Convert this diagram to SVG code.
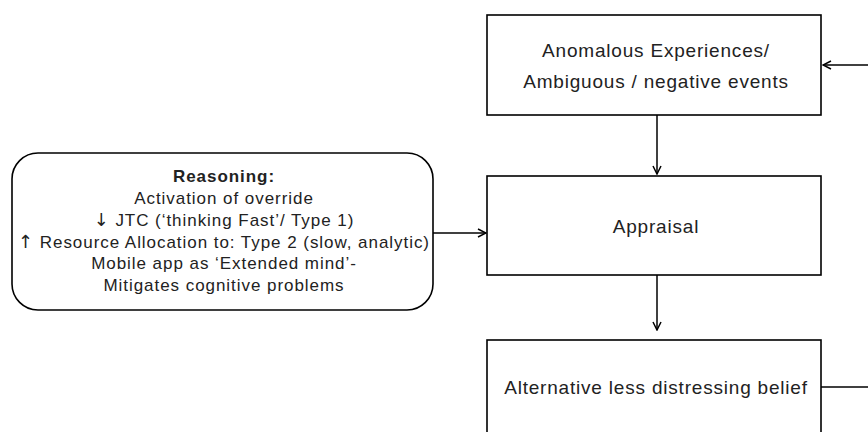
<svg xmlns="http://www.w3.org/2000/svg" width="868" height="432" viewBox="0 0 868 432">
<defs>
<marker id="ah" markerWidth="10" markerHeight="10" refX="9" refY="5" orient="auto" markerUnits="userSpaceOnUse">
<path d="M1,1 L9,5 L1,9" fill="none" stroke="#000" stroke-width="1.5"/>
</marker>
<style>
.box{fill:#fff;stroke:#000;stroke-width:1.6}
.t{font-family:"Liberation Sans",Arial,sans-serif;font-size:19px;letter-spacing:0.8px;fill:#222;text-anchor:middle}
.tl{font-family:"Liberation Sans",Arial,sans-serif;font-size:17px;letter-spacing:0.95px;fill:#222;text-anchor:middle}
.ar{font-family:"DejaVu Sans",sans-serif;font-weight:normal;font-size:18px}
.c{fill:none;stroke:#000;stroke-width:1.5}
</style>
</defs>
<rect width="868" height="432" fill="#fff"/>
<g id="connectors">
<path class="c" d="M868,65 L823,65" marker-end="url(#ah)"/>
<path class="c" d="M657,115 L657,174" marker-end="url(#ah)"/>
<path class="c" d="M433,233 L486,233" marker-end="url(#ah)"/>
<path class="c" d="M657,275 L657,330" marker-end="url(#ah)"/>
<path class="c" d="M821,387 L868,387"/>
</g>
<g id="anomalous">
<rect class="box" x="487" y="15" width="334" height="100"/>
<text class="t" x="656" y="57">Anomalous Experiences/</text>
<text class="t" x="656" y="88">Ambiguous / negative events</text>
</g>
<g id="reasoning">
<rect class="box" x="12" y="153" width="421" height="157" rx="26" ry="26"/>
<text class="tl" x="224" y="182" font-weight="bold">Reasoning:</text>
<text class="tl" x="224" y="204">Activation of override</text>
<text class="tl" x="224" y="226"><tspan class="ar">↓</tspan> JTC (‘thinking Fast’/ Type 1)</text>
<text class="tl" x="224" y="248"><tspan class="ar">↑</tspan> Resource Allocation to: Type 2 (slow, analytic)</text>
<text class="tl" x="224" y="269">Mobile app as ‘Extended mind’-</text>
<text class="tl" x="224" y="291">Mitigates cognitive problems</text>
</g>
<g id="appraisal">
<rect class="box" x="487" y="176" width="334" height="99"/>
<text class="t" x="656" y="233">Appraisal</text>
</g>
<g id="alternative">
<rect class="box" x="487" y="340" width="334" height="110"/>
<text class="t" x="656" y="394">Alternative less distressing belief</text>
</g>
</svg>
